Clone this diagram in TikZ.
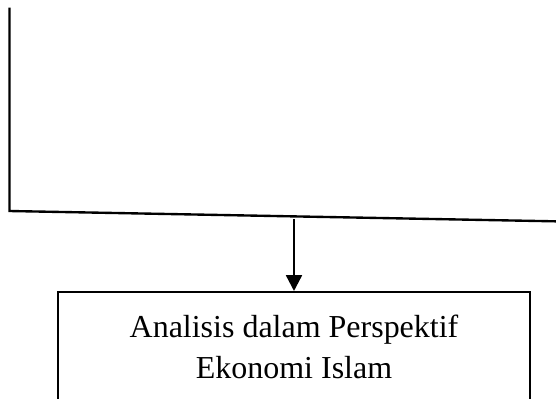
\documentclass[tikz,border=0pt]{standalone}
\usepackage{fontspec}
\setmainfont{Liberation Serif}
\usepackage{tikz}
\usetikzlibrary{positioning,arrows.meta}

\begin{document}
\begin{tikzpicture}[
                >={Triangle[length=9pt,width=9pt]},
                flowline/.style={draw=black, line width=1.35pt},
                arrow/.style={->, flowline},
                mainbox/.style={rectangle, draw=black, line width=1.35pt, minimum width=9.44cm, minimum height=2.18cm, align=center, font=\fontsize{18.2}{23.4}\selectfont}
                ]
                \useasboundingbox (0,0) rectangle (11.12,-7.96);

                \coordinate (linetop) at (0.19,-0.15);
                \coordinate (corner) at (0.19,-4.22);
                \coordinate (lineend) at (11.3,-4.43);
                \coordinate (split) at (5.88,-4.38);

                \node[mainbox, anchor=north] (analisis) at (5.88,-5.82) {Analisis dalam Perspektif\\Ekonomi Islam};

                % bracket from the stages above
                \draw[flowline] (linetop) -- (corner) -- (lineend);
                \draw[arrow] (split) -- (analisis.north);
            \end{tikzpicture}
\end{document}
